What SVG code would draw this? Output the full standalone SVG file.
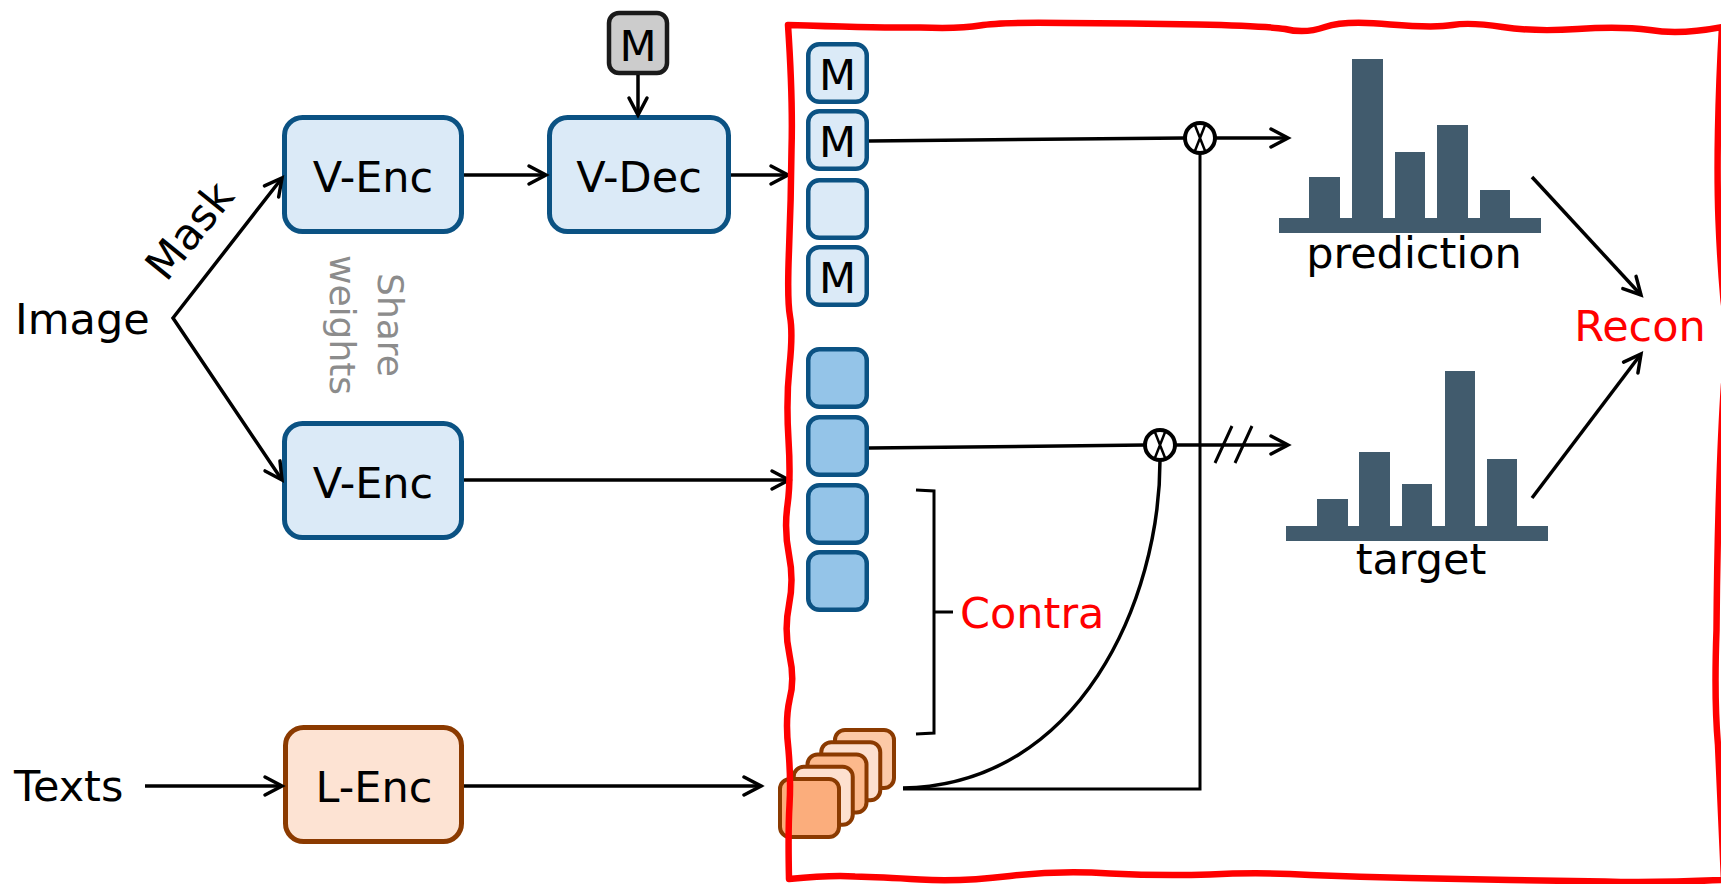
<svg xmlns="http://www.w3.org/2000/svg" width="1721" height="884" viewBox="0 0 1721 884">
  <defs>
    <style>
      .lbl { font-family: "DejaVu Sans", Verdana, sans-serif; font-size: 43px; fill: #000; }
      .red { fill: #ff0000; }
      .grey { font-family: "DejaVu Sans", Verdana, sans-serif; font-size: 36px; fill: #8c8c8c; }
      .vbox { fill: #dbeaf7; stroke: #0b5283; stroke-width: 5; }
      .lbox { fill: #fde3d3; stroke: #8b3a00; stroke-width: 5; }
      .mbox { fill: #cccccc; stroke: #1a1a1a; stroke-width: 4.5; }
      .tok-l { fill: #dbeaf7; stroke: #0b5283; stroke-width: 4.5; }
      .tok-d { fill: #94c4e8; stroke: #0b5283; stroke-width: 4.5; }
      .ot { stroke: #8b3a00; stroke-width: 4; }
      .ln { fill: none; stroke: #000; stroke-width: 3.5; }
      .thin { fill: none; stroke: #000; stroke-width: 3; }
      .bar { fill: #415b6d; }
      .op { fill: #fff; stroke: #000; stroke-width: 4; }
    </style>
    <marker id="arr" viewBox="-22 -13 26 26" refX="0" refY="0" markerWidth="26" markerHeight="26"
            markerUnits="userSpaceOnUse" orient="auto-start-reverse" overflow="visible">
      <path d="M-17,-9 L0,0 L-17,9" fill="none" stroke="#000" stroke-width="3.5" stroke-linecap="round"/>
    </marker>
  </defs>

  <rect width="1721" height="884" fill="#fff"/>

  <!-- input labels -->
  <g id="image-label"><text class="lbl" x="15" y="334">Image</text></g>
  <g id="texts-label"><text class="lbl" x="14" y="801">Texts</text></g>
  <g id="mask-label"><text class="lbl" text-anchor="middle" transform="translate(201,240) rotate(-51)">Mask</text></g>
  <g id="share-label">
    <text class="grey" text-anchor="middle" transform="translate(378,325) rotate(90)">Share</text>
    <text class="grey" text-anchor="middle" transform="translate(330,325) rotate(90)">weights</text>
  </g>

  <!-- encoders / decoder -->
  <g id="venc-masked">
    <rect class="vbox" x="284.5" y="117.5" width="177" height="114" rx="18"/>
    <text class="lbl" x="373" y="192" text-anchor="middle">V-Enc</text>
  </g>
  <g id="vdec">
    <rect class="vbox" x="549.5" y="117.5" width="179" height="114" rx="18"/>
    <text class="lbl" x="639" y="192" text-anchor="middle">V-Dec</text>
  </g>
  <g id="mask-token">
    <rect class="mbox" x="609" y="13" width="58" height="60" rx="10"/>
    <text class="lbl" x="638" y="61" text-anchor="middle">M</text>
  </g>
  <g id="venc-full">
    <rect class="vbox" x="284.5" y="423.5" width="177" height="114" rx="18"/>
    <text class="lbl" x="373" y="498" text-anchor="middle">V-Enc</text>
  </g>
  <g id="lenc">
    <rect class="lbox" x="285.5" y="727.5" width="176" height="114" rx="18"/>
    <text class="lbl" x="374" y="802" text-anchor="middle">L-Enc</text>
  </g>

  <!-- decoded tokens -->
  <g id="dec-tokens">
    <rect class="tok-l" x="808.25" y="44.25" width="58.5" height="57.5" rx="11"/>
    <text class="lbl" x="837.5" y="90" text-anchor="middle">M</text>
    <rect class="tok-l" x="808.25" y="111.25" width="58.5" height="57.5" rx="11"/>
    <text class="lbl" x="837.5" y="157" text-anchor="middle">M</text>
    <rect class="tok-l" x="808.25" y="180.25" width="58.5" height="57.5" rx="11"/>
    <rect class="tok-l" x="808.25" y="247.25" width="58.5" height="57.5" rx="11"/>
    <text class="lbl" x="837.5" y="293" text-anchor="middle">M</text>
  </g>

  <!-- encoded image tokens -->
  <g id="enc-tokens">
    <rect class="tok-d" x="808.25" y="349.25" width="58.5" height="57.5" rx="11"/>
    <rect class="tok-d" x="808.25" y="417.25" width="58.5" height="57.5" rx="11"/>
    <rect class="tok-d" x="808.25" y="485.25" width="58.5" height="57.5" rx="11"/>
    <rect class="tok-d" x="808.25" y="552.25" width="58.5" height="57.5" rx="11"/>
  </g>

  <!-- text token stack, back to front -->
  <g id="text-tokens">
    <rect class="ot" fill="#fcc9a7" x="835" y="730" width="59" height="58" rx="10"/>
    <rect class="ot" fill="#fde0cf" x="821.25" y="742.25" width="59" height="58" rx="10"/>
    <rect class="ot" fill="#fcb98c" x="807.5" y="754.5" width="59" height="58" rx="10"/>
    <rect class="ot" fill="#fde0cf" x="793.75" y="766.75" width="59" height="58" rx="10"/>
    <rect class="ot" fill="#fbad7c" x="780" y="779" width="59" height="58" rx="10"/>
  </g>

  <!-- histograms -->
  <g id="prediction">
    <rect class="bar" x="1279" y="218" width="262" height="15"/>
    <rect class="bar" x="1309" y="177" width="31" height="42"/>
    <rect class="bar" x="1352" y="59" width="31" height="160"/>
    <rect class="bar" x="1395" y="152" width="30" height="67"/>
    <rect class="bar" x="1437" y="125" width="31" height="94"/>
    <rect class="bar" x="1480" y="190" width="30" height="29"/>
    <text class="lbl" x="1414" y="268" text-anchor="middle">prediction</text>
  </g>
  <g id="target">
    <rect class="bar" x="1286" y="526" width="262" height="15"/>
    <rect class="bar" x="1317" y="499" width="31" height="28"/>
    <rect class="bar" x="1359" y="452" width="31" height="75"/>
    <rect class="bar" x="1402" y="484" width="30" height="43"/>
    <rect class="bar" x="1445" y="371" width="30" height="156"/>
    <rect class="bar" x="1487" y="459" width="30" height="68"/>
    <text class="lbl" x="1421" y="574" text-anchor="middle">target</text>
  </g>

  <g id="recon-label"><text class="lbl red" x="1640" y="341" text-anchor="middle">Recon</text></g>
  <g id="contra-label"><text class="lbl red" x="960" y="628">Contra</text></g>

  <!-- connectors -->
  <g id="connectors">
    <path class="ln" d="M282,178 L173,318 L282,480" marker-start="url(#arr)" marker-end="url(#arr)"/>
    <path class="ln" d="M464,175 L546,175" marker-end="url(#arr)"/>
    <path class="ln" d="M638,75 L638,115" marker-end="url(#arr)"/>
    <path class="ln" d="M731,175 L788,175" marker-end="url(#arr)"/>
    <path class="ln" d="M464,480 L789,480" marker-end="url(#arr)"/>
    <path class="ln" d="M145,786 L282,786" marker-end="url(#arr)"/>
    <path class="ln" d="M464,786 L761,786" marker-end="url(#arr)"/>

    <path class="ln" d="M869,141 L1185,138"/>
    <path class="ln" d="M1215,138 L1288,138" marker-end="url(#arr)"/>
    <path class="thin" d="M1200,153 L1200,789 L903,789"/>

    <path class="ln" d="M869,448 L1145,445"/>
    <path class="ln" d="M1175,445 L1288,445" marker-end="url(#arr)"/>
    <path class="thin" d="M1215,463 L1232,426 M1235,463 L1252,426"/>
    <path class="ln" d="M903,788 C1080,785 1160,600 1160,460"/>

    <path class="thin" d="M916,490 L934,491 L934,733 L916,734 M934,612 L953,612"/>

    <path class="ln" d="M1532,177 L1641,295" marker-end="url(#arr)"/>
    <path class="ln" d="M1532,498 L1641,354" marker-end="url(#arr)"/>

    <circle class="op" cx="1200" cy="138" r="15"/>
    <path d="M1194.5,124 L1205.5,152 M1205.5,124 L1194.5,152" stroke="#000" stroke-width="2.5"/>
    <circle class="op" cx="1160" cy="445" r="15"/>
    <path d="M1154.5,431 L1165.5,459 M1165.5,431 L1154.5,459" stroke="#000" stroke-width="2.5"/>
  </g>

  <!-- hand-drawn frame around the objective area -->
  <g id="frame">
    <path fill="none" stroke="#ff0000" stroke-width="6.5" stroke-linejoin="round"
      d="M788,25
         Q880,28 920,27.5 Q960,29 980,25.5 Q1000,22 1065,23 Q1130,23 1197.5,24.5 Q1265,26 1285,29
         Q1305,34 1325,27 Q1345,20 1390,24.5 Q1435,28 1452.5,25 Q1470,22 1502.5,27 Q1535,32 1577.5,29
         Q1620,26 1650,30 Q1680,35 1722,27
         Q1719,80 1718,130 Q1717,180 1718.5,220 Q1720,260 1723.5,300 Q1729,340 1724,385 Q1721,430 1719,495
         Q1717,560 1716.5,630 Q1714,700 1718,745 Q1720,790 1724,880
         Q1650,883 1605,881.5 Q1560,881 1510,880 Q1460,879 1410,878 Q1360,877 1310,875 Q1260,872 1210,874.5
         Q1160,876 1110,873.5 Q1060,870 1010,876 Q960,882 920,879.5 Q880,877 855,876.5 Q830,875 789,879
         Q788,830 789.5,805 Q791,780 788.5,750 Q785,720 789.5,700 Q795,680 789.5,655 Q784,630 789,605
         Q794,580 789,555 Q784,530 787.5,505 Q791,480 788.5,440 Q786,400 789.5,366.5 Q793,333 790,316.5
         Q787,300 789,250 Q791,200 791.5,150 Q793,100 788,25 Z"/>
  </g>
</svg>
